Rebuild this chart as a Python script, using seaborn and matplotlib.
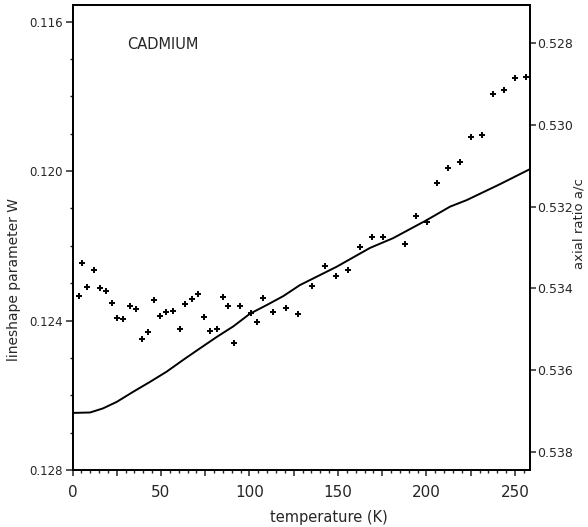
import numpy as np
import pandas as pd
import matplotlib
matplotlib.use("Agg")
import matplotlib.pyplot as plt
import matplotlib.ticker as mticker
import seaborn as sns

# ---- data ----
temp_points = [3.8, 5.2, 8.4, 11.9, 15.4, 18.8, 22.2, 25.4, 28.5, 32.4, 35.9, 39.4,
               42.7, 46.2, 49.4, 53.1, 56.6, 60.5, 63.8, 67.7, 70.9, 74.2, 77.8, 81.5,
               84.8, 88.0, 91.5, 94.8, 100.7, 104.2, 107.6, 113.5, 120.8, 127.6, 135.3,
               142.5, 149.0, 155.7, 162.6, 169.2, 175.4, 187.9, 194.1, 200.5, 206.1,
               212.2, 218.8, 225.1, 231.4, 237.4, 243.6, 249.8, 256.1]
w_points = [0.12334, 0.12245, 0.12310, 0.12264, 0.12313, 0.12322, 0.12353, 0.12392,
            0.12396, 0.12362, 0.12368, 0.12450, 0.12431, 0.12345, 0.12387, 0.12378,
            0.12375, 0.12423, 0.12355, 0.12343, 0.12330, 0.12390, 0.12428, 0.12422,
            0.12338, 0.12362, 0.12459, 0.12361, 0.12379, 0.12403, 0.12340, 0.12378,
            0.12366, 0.12382, 0.12307, 0.12253, 0.12281, 0.12265, 0.12202, 0.12176,
            0.12176, 0.12194, 0.12120, 0.12136, 0.12033, 0.11992, 0.11976, 0.11909,
            0.11904, 0.11794, 0.11783, 0.11750, 0.11748]

temp_line = [0.0, 9.9, 17.2, 25.0, 34.4, 43.8, 53.2, 62.6, 72.0, 81.5, 90.9, 100.3,
             109.7, 119.1, 128.5, 149.3, 168.1, 181.2, 200.1, 213.3, 222.7, 241.5, 258.5]
ac_line = [0.53705, 0.53704, 0.53694, 0.53678, 0.53653, 0.53629, 0.53604, 0.53575,
           0.53547, 0.53519, 0.53493, 0.53462, 0.53441, 0.53419, 0.53392, 0.53347,
           0.53301, 0.53277, 0.53233, 0.53200, 0.53184, 0.53145, 0.53108]

w_ticks = [0.116, 0.120, 0.124, 0.128]
w_ticklabels = ["0.116", "0.120", "0.124", "0.128"]
ac_ticks = [0.528, 0.530, 0.532, 0.534, 0.536, 0.538]
ac_ticklabels = ["0.528", "0.530", "0.532", "0.534", "0.536", "0.538"]
x_ticks = [0, 50, 100, 150, 200, 250]

df_pts = pd.DataFrame({"T": temp_points, "W": w_points})
df_line = pd.DataFrame({"T": temp_line, "ac": ac_line})

sns.set_style("ticks")
plt.rcParams["font.family"] = ["DejaVu Sans"]

fig = plt.figure(figsize=(5.88, 5.27), dpi=100)
ax = fig.add_axes([72.5 / 588, 1 - 470 / 527, (530 - 72.5) / 588, (470 - 5) / 527])
ax2 = ax.twinx()

sns.scatterplot(data=df_pts, x="T", y="W", ax=ax, marker="+", color="black",
                s=24, linewidth=1.4, legend=False, zorder=3)
sns.lineplot(data=df_line, x="T", y="ac", ax=ax2, color="black", linewidth=1.4,
             legend=False)

ax.set_xlim(0, 258.5)
ax.set_ylim(0.128, 0.115553)
ax2.set_ylim(0.538448, 0.527062)

# x ticks: major every 25 (labels every 50), minor every 5
ax.xaxis.set_major_locator(mticker.MultipleLocator(25))
ax.xaxis.set_major_formatter(mticker.FuncFormatter(
    lambda v, p: f"{int(round(v))}" if int(round(v)) in x_ticks else ""))
ax.xaxis.set_minor_locator(mticker.MultipleLocator(5))

ax.set_yticks(w_ticks)
ax.set_yticklabels(w_ticklabels)
ax.yaxis.set_minor_locator(mticker.MultipleLocator(0.001))
ax2.set_yticks(ac_ticks)
ax2.set_yticklabels(ac_ticklabels)

ax.tick_params(axis="x", which="major", direction="out", length=4.5, width=1.1,
               labelsize=11, pad=6)
ax.tick_params(axis="x", which="minor", direction="out", length=2, width=1)
ax.tick_params(axis="y", which="major", direction="out", length=5, width=1.1,
               labelsize=8.5, pad=2)
ax.tick_params(axis="y", which="minor", direction="out", length=2.5, width=1)
ax2.tick_params(axis="y", which="major", direction="out", length=4, width=1.1,
                labelsize=9, pad=1)

for a in (ax, ax2):
    for s in a.spines.values():
        s.set_visible(True)
        s.set_linewidth(1.3)
        s.set_color("black")

ax.set_xlabel("temperature (K)", fontsize=10.5)
ax.xaxis.set_label_coords(0.56, -0.085)
ax.set_ylabel("lineshape parameter W", fontsize=10)
ax.yaxis.set_label_coords(-0.113, 0.41)
ax2.set_ylabel("axial ratio a/c", fontsize=9.5, rotation=90)
ax2.yaxis.set_label_coords(1.092, 0.53)

ax.text(0.12, 0.915, "CADMIUM", transform=ax.transAxes, fontsize=10.5,
        ha="left", va="center")

fig.savefig("out.png", dpi=100)
